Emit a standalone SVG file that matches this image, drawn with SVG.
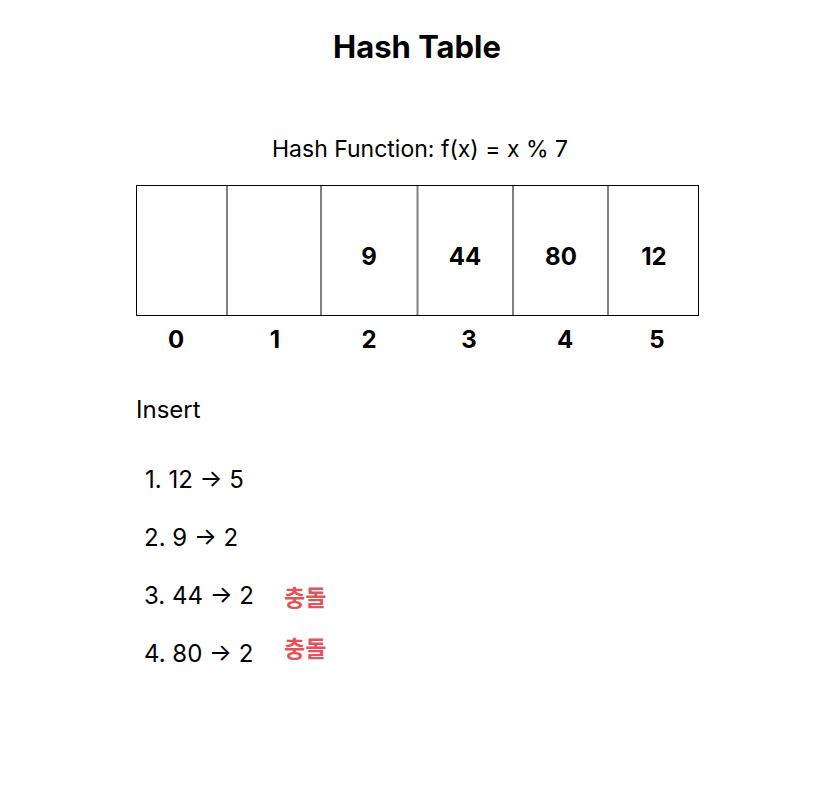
<svg xmlns="http://www.w3.org/2000/svg" width="836" height="811" viewBox="0 0 836 811">
<style>
text{font-family:Inter,"Noto Sans","Noto Sans CJK KR",sans-serif;fill:#000}
.t{font-size:31px;font-weight:700}
.s{font-size:23px}
.l{font-size:24px}
.v{font-size:24px;font-weight:700}
.r{font-size:23px;font-weight:700;fill:#e5535a;font-family:"Noto Sans CJK KR",sans-serif}
.div{stroke:#808080;stroke-width:2}
</style>
<rect width="836" height="811" fill="#fff"/>
<text class="t" x="417" y="58" text-anchor="middle">Hash Table</text>
<text class="s" x="420" y="157" text-anchor="middle">Hash Function: f(x) = x % 7</text>
<g id="table">
<rect x="136.5" y="185.5" width="562" height="130" fill="#fff" stroke="#000" stroke-width="1"/>
<line class="div" x1="227" y1="186" x2="227" y2="315"/>
<line class="div" x1="321" y1="186" x2="321" y2="315"/>
<line class="div" x1="417.5" y1="186" x2="417.5" y2="315"/>
<line class="div" x1="513" y1="186" x2="513" y2="315"/>
<line class="div" x1="608" y1="186" x2="608" y2="315"/>
</g>
<g id="values">
<text class="v" x="369" y="265" text-anchor="middle">9</text>
<text class="v" x="465" y="265" text-anchor="middle">44</text>
<text class="v" x="561" y="265" text-anchor="middle">80</text>
<text class="v" x="654" y="265" text-anchor="middle">12</text>
</g>
<g id="indices">
<text class="v" x="176" y="348" text-anchor="middle">0</text>
<text class="v" x="275" y="348" text-anchor="middle">1</text>
<text class="v" x="369" y="348" text-anchor="middle">2</text>
<text class="v" x="469" y="348" text-anchor="middle">3</text>
<text class="v" x="565" y="348" text-anchor="middle">4</text>
<text class="v" x="657" y="348" text-anchor="middle">5</text>
</g>
<g id="insert">
<text class="l" x="136" y="418">Insert</text>
<text class="l" x="145" y="488">1. 12 → 5</text>
<text class="l" x="144" y="546">2. 9 → 2</text>
<text class="l" x="144" y="604">3. 44 → 2</text>
<text class="l" x="144" y="662">4. 80 → 2</text>
<text class="r" x="284" y="606">충돌</text>
<text class="r" x="284" y="657">충돌</text>
</g>
</svg>
